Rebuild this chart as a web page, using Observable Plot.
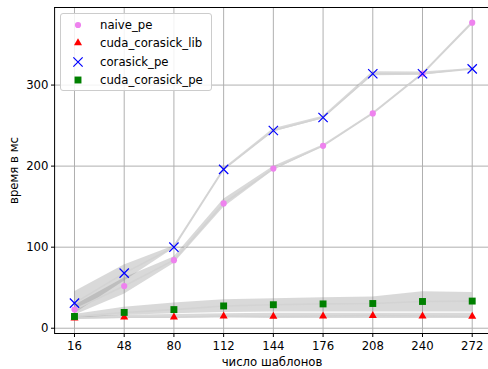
<!DOCTYPE html>
<html>
<head>
<meta charset="utf-8">
<script src="https://cdn.jsdelivr.net/npm/d3@7"></script>
<script src="https://cdn.jsdelivr.net/npm/@observablehq/plot@0.6"></script>
<style>
  html, body { margin: 0; padding: 0; background: #fff; }
  #wrap { position: relative; width: 488px; height: 369px; overflow: hidden; font-family: "DejaVu Sans", sans-serif; }
  #legend { position: absolute; left: 60px; top: 13px; width: 150px; height: 76px; border: 1px solid #cccccc; border-radius: 3px; background: rgba(255,255,255,0.85); box-sizing: content-box; }
  .row { position: absolute; left: 0; height: 18px; display: flex; align-items: center; font-size: 11.7px; color: #000; }
  .row svg { position: absolute; left: 9px; top: 1px; }
  .row span { position: absolute; left: 39px; white-space: nowrap; }
</style>
</head>
<body>
<div id="wrap"><div id="chart"></div><div id="legend"></div></div>
<script>
const xs = [16, 48, 80, 112, 144, 176, 208, 240, 272];
const seriesNames = ["naive_pe", "cuda_corasick_lib", "corasick_pe", "cuda_corasick_pe"];

const naive   = [23, 52, 84, 154, 197, 225, 265, 314, 377];
const naiveLo = [16, 42, 80, 149, 194.5, 224, 264, 313, 376];
const naiveHi = [28, 62, 88, 159, 199.5, 226, 266, 315, 378];

const lib   = [12.5, 13.5, 13.5, 15, 14.5, 15, 15.5, 15, 14.5];
const libLo = [11, 12, 12, 12.5, 12, 12, 12, 12, 12];
const libHi = [14, 16, 17, 18, 18.5, 18.5, 18.5, 18.5, 18.5];

const cor   = [31, 68, 100, 196, 244, 260, 314, 314, 320];
const corLo = [18, 58, 98.5, 195, 242, 258.5, 311.5, 312, 319.5];
const corHi = [45, 78, 101.5, 197, 246, 261.5, 316.5, 316, 320.5];

const cudaPe   = [14.5, 19.5, 23, 27.5, 29, 30, 30.5, 33, 33.5];
const cudaPeLo = [12, 16, 18, 19.5, 20, 20, 20, 20, 20];
const cudaPeHi = [17, 26, 31, 35, 36.5, 37.5, 38.5, 45, 44];

const yTicks = [0, 100, 200, 300];
const xDomain = [3.2, 284.8];
const yDomain = [-6.5, 395.7];

const series = [
  {name: seriesNames[0], v: naive, lo: naiveLo, hi: naiveHi, symbol: "circle", color: "violet", r: 3.1, stroke: false},
  {name: seriesNames[1], v: lib, lo: libLo, hi: libHi, symbol: "triangle", color: "red", r: 3.0, stroke: false},
  {name: seriesNames[2], v: cor, lo: corLo, hi: corHi, symbol: "times", color: "blue", r: 4.3, stroke: true},
  {name: seriesNames[3], v: cudaPe, lo: cudaPeLo, hi: cudaPeHi, symbol: "square", color: "green", r: 3.9, stroke: false}
];

const rows = series.flatMap(s => xs.map((x, i) => ({series: s.name, x, y: s.v[i], lo: s.lo[i], hi: s.hi[i]})));

const marks = [
  Plot.gridX(xs, {stroke: "#b0b0b0", strokeOpacity: 1, strokeWidth: 1}),
  Plot.gridY(yTicks, {stroke: "#b0b0b0", strokeOpacity: 1, strokeWidth: 1}),
];
for (const s of series) {
  const d = rows.filter(r => r.series === s.name);
  marks.push(Plot.areaY(d, {x: "x", y1: "lo", y2: "hi", fill: "gray", fillOpacity: 0.3, curve: "linear"}));
}
for (const s of series) {
  const d = rows.filter(r => r.series === s.name);
  marks.push(Plot.lineY(d, {x: "x", y: "y", stroke: "#d3d3d3", strokeWidth: 1.6}));
}
for (const s of series) {
  const d = rows.filter(r => r.series === s.name);
  marks.push(s.stroke
    ? Plot.dot(d, {x: "x", y: "y", symbol: () => s.symbol, r: s.r, stroke: s.color, strokeWidth: 1.2, fill: "none"})
    : Plot.dot(d, {x: "x", y: "y", symbol: () => s.symbol, r: s.r, fill: s.color, stroke: "none"}));
}
// spines
marks.push(Plot.ruleX([xDomain[0]], {y1: yDomain[0], y2: yDomain[1], stroke: "black", strokeWidth: 1}));
marks.push(Plot.ruleY([yDomain[0], yDomain[1]], {x1: xDomain[0], x2: xDomain[1], stroke: "black", strokeWidth: 1}));
marks.push(Plot.axisX(xs, {tickSize: 4, tickPadding: 4, fontSize: 11.7, label: "число шаблонов", labelAnchor: "center", labelArrow: "none", labelOffset: 32}));
marks.push(Plot.axisY(yTicks, {tickSize: 4, tickPadding: 3, fontSize: 11.7, label: "время в мс", labelAnchor: "center", labelArrow: "none", labelOffset: 46}));

const chart = Plot.plot({
  width: 488,
  height: 369,
  marginLeft: 55,
  marginTop: 7,
  marginBottom: 36,
  marginRight: 0,
  style: {fontFamily: "DejaVu Sans, sans-serif", fontSize: "11.7px", color: "black", background: "white"},
  x: {type: "linear", domain: xDomain, range: [54.1, 491.6]},
  y: {type: "linear", domain: yDomain, range: [333, 7]},
  symbol: {type: "identity"},
  marks
});
document.getElementById("chart").appendChild(chart);

// legend
const legend = document.getElementById("legend");
series.forEach((s, i) => {
  const row = document.createElement("div");
  row.className = "row";
  row.style.top = (2 + i * 18.4) + "px";
  row.style.width = "150px";
  const sym = d3.symbol(s.symbol === "circle" ? d3.symbolCircle : s.symbol === "triangle" ? d3.symbolTriangle : s.symbol === "times" ? d3.symbolTimes : d3.symbolSquare, Math.PI * s.r * s.r)();
  const svgNS = "http://www.w3.org/2000/svg";
  const svg = document.createElementNS(svgNS, "svg");
  svg.setAttribute("width", 16); svg.setAttribute("height", 16);
  const p = document.createElementNS(svgNS, "path");
  p.setAttribute("d", sym);
  p.setAttribute("transform", "translate(8,8)");
  if (s.stroke) { p.setAttribute("stroke", s.color); p.setAttribute("stroke-width", 1.2); p.setAttribute("fill", "none"); }
  else { p.setAttribute("fill", s.color); }
  svg.appendChild(p);
  const span = document.createElement("span");
  span.textContent = s.name;
  row.appendChild(svg); row.appendChild(span);
  legend.appendChild(row);
});
</script>
</body>
</html>
